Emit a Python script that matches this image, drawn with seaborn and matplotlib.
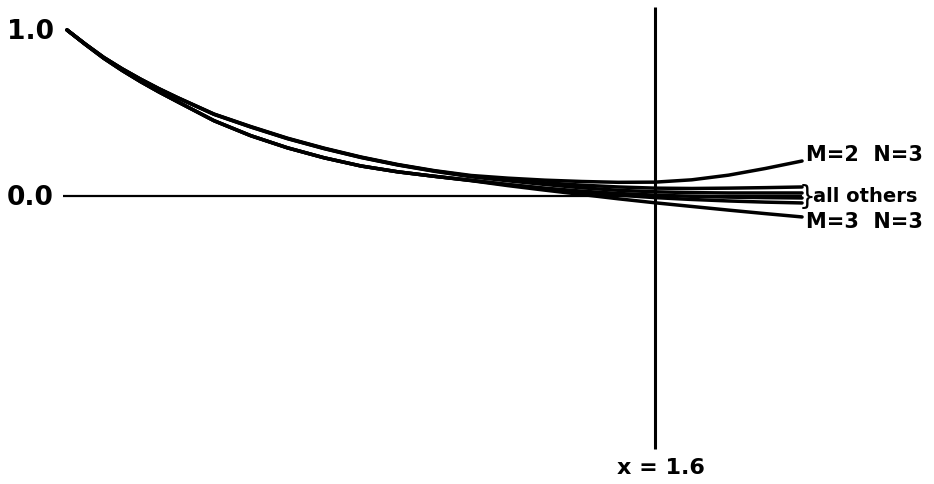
import matplotlib
matplotlib.use("Agg")
import matplotlib.pyplot as plt
import pandas as pd
import seaborn as sns

# abscissa samples shared by every curve (denser where the curves bend most)
x = [0.0, 0.05, 0.1, 0.15, 0.2, 0.25, 0.3, 0.4, 0.5, 0.6, 0.7, 0.8, 0.9, 1.0,
     1.1, 1.2, 1.3, 1.4, 1.5, 1.6, 1.7, 1.8, 1.9, 2.0]

# labelled approximations
m2_n3 = [1.0, 0.915, 0.835, 0.767, 0.705, 0.648, 0.595, 0.495, 0.420, 0.350, 0.290,
         0.237, 0.192, 0.155, 0.126, 0.110, 0.098, 0.090, 0.085, 0.086, 0.100,
         0.128, 0.168, 0.213]
m3_n3 = [1.0, 0.913, 0.830, 0.757, 0.690, 0.628, 0.570, 0.455, 0.365, 0.292, 0.232,
         0.183, 0.148, 0.121, 0.095, 0.065, 0.038, 0.012, -0.014, -0.038, -0.060,
         -0.082, -0.103, -0.123]

# remaining approximations ("all others")
other_a = [1.0, 0.915, 0.835, 0.767, 0.705, 0.647, 0.594, 0.494, 0.418, 0.348, 0.288,
           0.235, 0.190, 0.153, 0.122, 0.100, 0.082, 0.068, 0.057, 0.050, 0.048,
           0.050, 0.053, 0.057]
other_b = [1.0, 0.915, 0.835, 0.766, 0.704, 0.646, 0.593, 0.493, 0.417, 0.347, 0.287,
           0.234, 0.189, 0.151, 0.118, 0.094, 0.072, 0.052, 0.037, 0.028, 0.023,
           0.021, 0.021, 0.021]
other_c = [1.0, 0.913, 0.830, 0.757, 0.690, 0.628, 0.570, 0.455, 0.365, 0.292, 0.232,
           0.183, 0.148, 0.121, 0.097, 0.072, 0.050, 0.032, 0.018, 0.008, 0.001,
           -0.004, -0.007, -0.009]
other_d = [1.0, 0.913, 0.830, 0.757, 0.690, 0.628, 0.570, 0.455, 0.365, 0.292, 0.232,
           0.183, 0.148, 0.121, 0.096, 0.070, 0.047, 0.026, 0.008, -0.007, -0.018,
           -0.027, -0.034, -0.039]

curves = {
    "M=2 N=3": m2_n3,
    "a": other_a,
    "b": other_b,
    "c": other_c,
    "d": other_d,
    "M=3 N=3": m3_n3,
}

x_mark = 1.6
y_ticks = [1.0, 0.0]
y_tick_labels = ["1.0", "0.0"]

df = pd.concat(
    [pd.DataFrame({"x": x, "y": ys, "curve": name}) for name, ys in curves.items()],
    ignore_index=True,
)

sns.set_style("white")
plt.rcParams["font.family"] = ["DejaVu Sans"]

fig = plt.figure(figsize=(9.34, 4.85), dpi=100)
ax = fig.add_axes([0, 0, 1, 1])

sns.lineplot(data=df, x="x", y="y", units="curve", estimator=None, sort=False,
             color="black", linewidth=2.5, ax=ax, legend=False)
for line in ax.lines:
    line.set_solid_joinstyle("round")
    line.set_solid_capstyle("round")

# reference lines: zero level and the x = 1.6 marker
ax.plot([-0.01, 2.0], [0, 0], color="black", linewidth=1.6, solid_capstyle="butt")
ax.plot([x_mark, x_mark], [-1.515, 1.14], color="black", linewidth=2.2,
        solid_capstyle="butt")

ax.set_xlim(-0.1823, 2.359)
ax.set_ylim(-1.727, 1.186)
ax.set_axis_off()

for yv, lab in zip(y_ticks, y_tick_labels):
    ax.text(-0.036, yv - 0.005, lab, ha="right", va="center", fontsize=19,
            fontweight="bold", color="black")

ax.text(2.012, 0.255, "M=2  N=3", ha="left", va="center", fontsize=15,
        fontweight="bold", color="black")
ax.text(1.990, 0.0, "}", ha="left", va="center", fontsize=19, color="black")
ax.text(2.030, 0.005, "all others", ha="left", va="center", fontsize=14,
        fontweight="bold", color="black")
ax.text(2.012, -0.150, "M=3  N=3", ha="left", va="center", fontsize=15,
        fontweight="bold", color="black")
ax.text(x_mark + 0.015, -1.625, "x = 1.6", ha="center", va="center", fontsize=16,
        fontweight="bold", color="black")

fig.savefig("out.png", dpi=100, facecolor="white")
